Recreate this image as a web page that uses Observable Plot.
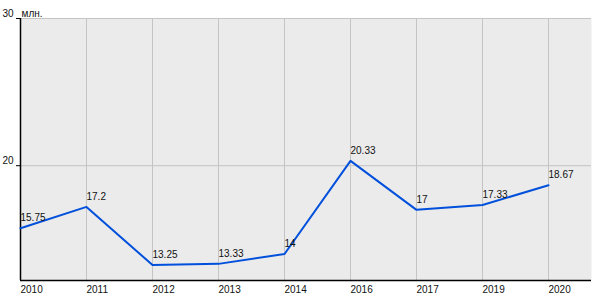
<!DOCTYPE html>
<html><head><meta charset="utf-8">
<script src="https://cdn.jsdelivr.net/npm/d3@7"></script>
<script src="https://cdn.jsdelivr.net/npm/@observablehq/plot@0.6"></script>
<style>body{margin:0;background:#fff}</style>
</head><body><div id="chart"></div>
<script>
const years = ["2010","2011","2012","2013","2014","2016","2017","2019","2020"];
const values = [15.75, 17.2, 13.25, 13.33, 14, 20.33, 17, 17.33, 18.67];
const labels = ["15.75","17.2","13.25","13.33","14","20.33","17","17.33","18.67"];
const yTicks = [20, 30];
const unit = "млн.";
const data = years.map((y, i) => ({year: y, value: values[i], label: labels[i]}));
const yMin = 12.2, yMax = 30;
const chart = Plot.plot({
  width: 600, height: 300,
  marginLeft: 20, marginRight: 9, marginTop: 18, marginBottom: 20,
  style: {fontFamily: "'Liberation Sans', Arial, sans-serif", fontSize: "10px", color: "#111", background: "#fff"},
  x: {type: "point", domain: years, range: [20, 548], padding: 0, axis: null},
  y: {domain: [yMin, yMax], ticks: yTicks},
  marks: [
    Plot.frame({fill: "#ebebeb", stroke: null}),
    Plot.gridX(years, {stroke: "#c4c4c4", strokeOpacity: 1, strokeWidth: 1}),
    Plot.gridY(yTicks, {stroke: "#c4c4c4", strokeOpacity: 1, strokeWidth: 1}),
    Plot.ruleY([yMin], {stroke: "#000", strokeWidth: 1.5}),
    Plot.ruleX([years[0]], {stroke: "#000", strokeWidth: 1.5}),
    Plot.text(years, {x: d => d, frameAnchor: "bottom", textAnchor: "start", lineAnchor: "top", dy: 5, fill: "#111"}),
    Plot.axisY(yTicks, {tickSize: 4, tickFormat: () => "", label: null, stroke: "#000", strokeOpacity: 1}),
    Plot.axisY(yTicks, {tickSize: 0, tickPadding: 7, dy: -5, label: null, fill: "#111"}),
    Plot.line(data, {x: "year", y: "value", stroke: "#0050dc", strokeWidth: 2}),
    Plot.text(data, {x: "year", y: "value", text: "label", textAnchor: "start", dx: 0, dy: -10, fill: "#111"}),
    Plot.text([unit], {frameAnchor: "top-left", text: d => d, dx: 1, dy: -2, lineAnchor: "bottom", textAnchor: "start", fill: "#111"})
  ]
});
document.getElementById("chart").append(chart);
</script>
</body></html>
